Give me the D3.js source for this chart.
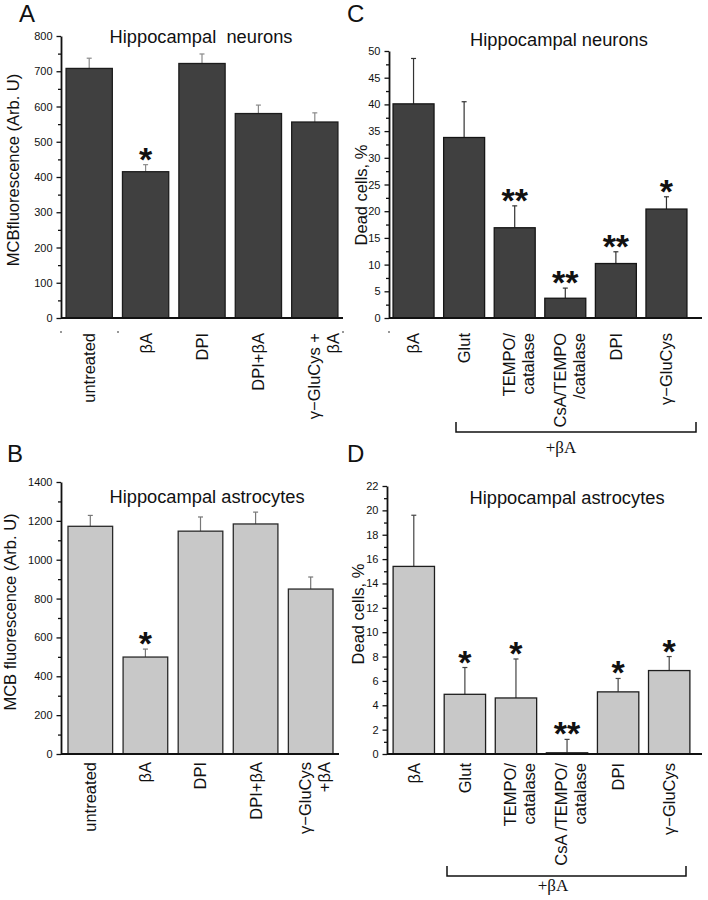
<!DOCTYPE html>
<html>
<head>
<meta charset="utf-8">
<script src="https://cdn.jsdelivr.net/npm/d3@7"></script>
<style>
  body { margin: 0; background: #fff; }
  svg { display: block; font-family: Arial, "Liberation Sans", sans-serif; }
</style>
</head>
<body>
<div id="chart"></div>
<script>
// ---- data ----
// A: MCB fluorescence, hippocampal neurons
const catsA = ["untreated", "βA", "DPI", "DPI+βA", "γ−GluCys +|βA"];
const valsA = [708, 415, 722, 580, 556];
const errA = [737, 435, 749, 604, 582];
const starsA = ["", "*", "", "", ""];
const ticksA = [0, 100, 200, 300, 400, 500, 600, 700, 800];

// B: MCB fluorescence, hippocampal astrocytes
const catsB = ["untreated", "βA", "DPI", "DPI+βA", "γ−GluCys|+βA"];
const valsB = [1172, 499, 1147, 1184, 849];
const errB = [1228, 540, 1220, 1245, 911];
const starsB = ["", "*", "", "", ""];
const ticksB = [0, 200, 400, 600, 800, 1000, 1200, 1400];

// C: dead cells, hippocampal neurons
const catsC = ["βA", "Glut", "TEMPO/|catalase", "CsA/TEMPO|/catalase", "DPI", "γ−GluCys"];
const valsC = [40.1, 33.8, 16.9, 3.7, 10.2, 20.4];
const errC = [48.6, 40.5, 21.0, 5.6, 12.4, 22.7];
const starsC = ["", "", "**", "**", "**", "*"];
const ticksC = [0, 5, 10, 15, 20, 25, 30, 35, 40, 45, 50];

// D: dead cells, hippocampal astrocytes
const catsD = ["βA", "Glut", "TEMPO/|catalase", "CsA /TEMPO/|catalase", "DPI", "γ−GluCys"];
const valsD = [15.4, 4.9, 4.6, 0.1, 5.1, 6.85];
const errD = [19.6, 7.1, 7.8, 1.2, 6.2, 8.0];
const starsD = ["", "*", "*", "**", "*", "*"];
const ticksD = [0, 2, 4, 6, 8, 10, 12, 14, 16, 18, 20, 22];

const W = 708, H = 900;
const svg = d3.select("#chart").append("svg")
  .attr("width", W)
  .attr("height", H);

function panel(p) {
  const g = svg.append("g");

  const x = d3.scaleBand()
    .domain(p.cats)
    .range(p.xr)
    .paddingInner(p.pin)
    .paddingOuter(p.pout);

  const y = d3.scaleLinear()
    .domain([0, d3.max(p.ticks)])
    .range(p.yr);

  const rows = p.cats.map((c, i) => ({ c, v: p.vals[i], e: p.errs[i], s: p.stars[i] }));

  // error bars (drawn first, bar covers the lower part)
  const eb = g.selectAll(".err").data(rows).join("g");
  eb.append("line")
    .attr("x1", (d) => x(d.c) + x.bandwidth() / 2)
    .attr("x2", (d) => x(d.c) + x.bandwidth() / 2)
    .attr("y1", (d) => y(d.v))
    .attr("y2", (d) => y(d.e))
    .attr("stroke", p.errColor)
    .attr("stroke-width", 1.2);
  eb.append("line")
    .attr("x1", (d) => x(d.c) + x.bandwidth() / 2 - 2.5)
    .attr("x2", (d) => x(d.c) + x.bandwidth() / 2 + 2.5)
    .attr("y1", (d) => y(d.e))
    .attr("y2", (d) => y(d.e))
    .attr("stroke", p.errColor)
    .attr("stroke-width", 1.2);

  // bars
  g.selectAll(".bar").data(rows).join("rect")
    .attr("x", (d) => x(d.c))
    .attr("y", (d) => y(d.v))
    .attr("width", x.bandwidth())
    .attr("height", (d) => y(0) - y(d.v))
    .attr("fill", p.fill)
    .attr("stroke", p.stroke)
    .attr("stroke-width", 1.3);

  // significance stars
  g.selectAll(".star").data(rows.filter((d) => d.s)).join("text")
    .attr("x", (d) => x(d.c) + x.bandwidth() / 2)
    .attr("y", (d) => y(d.e) - 13 + 19)
    .attr("text-anchor", "middle")
    .attr("font-size", 34)
    .attr("font-weight", "bold")
    .attr("fill", "#111")
    .text((d) => d.s);

  // y axis: major + minor ticks
  const minor = [];
  for (let i = 0; i < p.ticks.length - 1; i++) minor.push((p.ticks[i] + p.ticks[i + 1]) / 2);

  g.append("g")
    .attr("transform", `translate(${p.xr0},0)`)
    .call(d3.axisLeft(y).tickValues(minor).tickSize(3).tickSizeOuter(0).tickFormat(""))
    .call((a) => a.select(".domain").remove())
    .selectAll("line").attr("stroke", "#111").attr("stroke-width", 1.3);

  const ya = g.append("g")
    .attr("transform", `translate(${p.xr0},0)`)
    .call(d3.axisLeft(y).tickValues(p.ticks).tickSize(4.5).tickPadding(4).tickSizeOuter(0).tickFormat(d3.format("d")));
  ya.select(".domain").attr("stroke", "#111").attr("stroke-width", 1.8);
  ya.selectAll("line").attr("stroke", "#111").attr("stroke-width", 1.3);
  ya.selectAll("text").attr("font-size", 11).attr("font-family", "Arial, 'Liberation Sans', sans-serif").attr("fill", "#111");

  // x axis line
  g.append("line")
    .attr("x1", p.xr0)
    .attr("x2", p.xEnd)
    .attr("y1", y(0))
    .attr("y2", y(0))
    .attr("stroke", "#111")
    .attr("stroke-width", 1.8);

  // rotated category labels
  rows.forEach((d) => {
    const lines = d.c.split("|");
    lines.forEach((t, j) => {
      const off = lines.length > 1 ? (j - (lines.length - 1) / 2) * 19 + p.lineShift : 0;
      g.append("text")
        .attr("transform", `translate(${x(d.c) + x.bandwidth() / 2 + off},${y(0) + p.labelGap}) rotate(-90)`)
        .attr("text-anchor", "end")
        .attr("dy", "0.36em")
        .attr("font-size", 16.5)
        .attr("fill", "#111")
        .text(t);
    });
  });

  // y label
  g.append("text")
    .attr("transform", `translate(${p.ylab[0]},${p.ylab[1]}) rotate(-90)`)
    .attr("text-anchor", "middle")
    .attr("font-size", 16.5)
    .attr("fill", "#111")
    .text(p.ylabel);

  // title
  g.append("text")
    .attr("x", p.title[0])
    .attr("y", p.title[1])
    .attr("text-anchor", "middle")
    .attr("font-size", 18.3)
    .attr("fill", "#111")
    .style("white-space", "pre")
    .text(p.titleText);

  // panel letter
  g.append("text")
    .attr("x", p.letter[0])
    .attr("y", p.letter[1])
    .attr("font-size", 24)
    .attr("fill", "#111")
    .text(p.letterText);

  // stray tick marks below the x axis
  if (p.stray) {
    p.stray.forEach((sx) => {
      g.append("line")
        .attr("x1", sx - 1).attr("x2", sx + 1)
        .attr("y1", y(0) + 14).attr("y2", y(0) + 14)
        .attr("stroke", "#333").attr("stroke-width", 1.2);
    });
  }

  // +βA bracket
  if (p.bracket) {
    const b = p.bracket;
    g.append("path")
      .attr("d", `M${b.x1},${b.y - 10}V${b.y}H${b.x2}V${b.y - 10}`)
      .attr("fill", "none")
      .attr("stroke", "#111")
      .attr("stroke-width", 1.5);
    g.append("text")
      .attr("x", b.tx)
      .attr("y", b.ty)
      .attr("text-anchor", "middle")
      .attr("font-family", "'Liberation Serif', 'DejaVu Serif', serif")
      .attr("font-size", 17)
      .attr("fill", "#111")
      .text("+βA");
  }
}

panel({
  cats: catsA, vals: valsA, errs: errA, stars: starsA, ticks: ticksA,
  xr: [61, 343], pin: 0.18, pout: 0.09, xr0: 61, xEnd: 343, yr: [318, 36],
  fill: "#404040", stroke: "#1c1c1c", errColor: "#8a8a8a",
  labelGap: 15, lineShift: 9,
  ylabel: "MCBfluorescence (Arb. U)", ylab: [19, 170],
  titleText: "Hippocampal  neurons", title: [201, 43],
  letterText: "A", letter: [19, 22],
  stray: [61, 118, 343]
});

panel({
  cats: catsC, vals: valsC, errs: errC, stars: starsC, ticks: ticksC,
  xr: [388, 692], pin: 0.19, pout: 0.1, xr0: 389, xEnd: 702, yr: [318, 51],
  fill: "#404040", stroke: "#151515", errColor: "#333",
  labelGap: 15, lineShift: 4,
  ylabel: "Dead cells, %", ylab: [367, 195],
  titleText: "Hippocampal neurons", title: [559, 46],
  letterText: "C", letter: [347, 22],
  stray: [389],
  bracket: { x1: 456, x2: 696, y: 432, tx: 561, ty: 453 }
});

panel({
  cats: catsB, vals: valsB, errs: errB, stars: starsB, ticks: ticksB,
  xr: [61, 340], pin: 0.19, pout: 0.127, xr0: 61, xEnd: 339, yr: [754, 482],
  fill: "#c8c8c8", stroke: "#2a2a2a", errColor: "#777",
  labelGap: 8, lineShift: 4,
  ylabel: "MCB fluorescence (Arb. U)", ylab: [16, 612],
  titleText: "Hippocampal astrocytes", title: [207, 503],
  letterText: "B", letter: [7, 462]
});

panel({
  cats: catsD, vals: valsD, errs: errD, stars: starsD, ticks: ticksD,
  xr: [388, 695], pin: 0.19, pout: 0.1, xr0: 387, xEnd: 702, yr: [754, 486],
  fill: "#c8c8c8", stroke: "#1e1e1e", errColor: "#444",
  labelGap: 9, lineShift: 4,
  ylabel: "Dead cells, %", ylab: [364, 614],
  titleText: "Hippocampal astrocytes", title: [567, 504],
  letterText: "D", letter: [347, 462],
  bracket: { x1: 447, x2: 686, y: 876, tx: 553, ty: 891 }
});
</script>
</body>
</html>
